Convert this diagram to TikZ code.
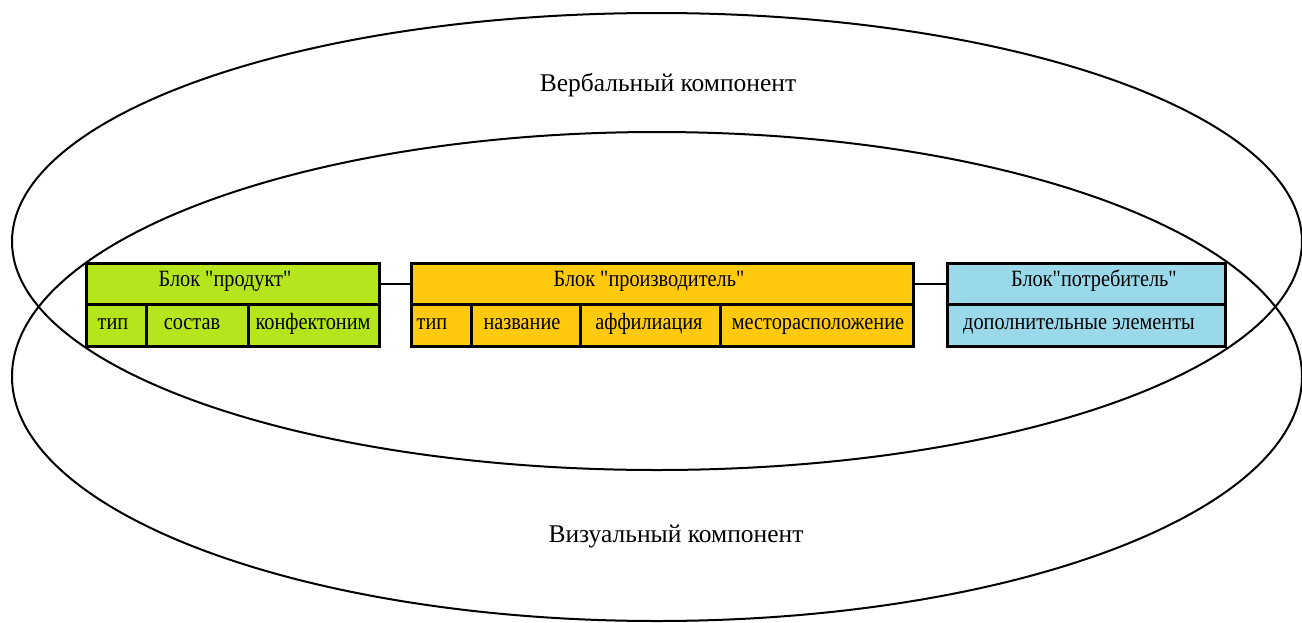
\documentclass[tikz,border=0pt]{standalone}
\usepackage{fontspec}
\newfontfamily\tnr{Liberation Serif}
\definecolor{cgreen}{HTML}{B5E61D}
\definecolor{corange}{HTML}{FFC90E}
\definecolor{cblue}{HTML}{99D9EA}
\newcommand{\tall}[1]{\scalebox{1}[1.15]{#1}}
\tikzset{
  oval/.style={draw=black, line width=2pt},
  cell/.style={draw=black, line width=3pt, rectangle, inner sep=0pt, anchor=north west},
  boxtext/.style={font=\tnr\fontsize{20.3}{22}\selectfont, inner sep=0pt, anchor=base},
  bigtext/.style={font=\tnr\fontsize{25.5}{28}\selectfont, inner sep=0pt},
  link/.style={draw=black, line width=2pt}
}
\begin{document}
\begin{tikzpicture}[x=1pt,y=-1pt]
\useasboundingbox (0,0) rectangle (1302,622);
\fill[white] (0,0) rectangle (1302,622);
% ellipses
\draw[oval] (657,241.5) ellipse [x radius=645, y radius=228.5];
\draw[oval] (657,376.5) ellipse [x radius=645, y radius=244.5];
\node[bigtext] (verb) at (668,85) {Вербальный компонент};
\node[bigtext] (vis) at (676,537) {Визуальный компонент};
% green block
\node[cell, fill=cgreen, minimum width=293pt, minimum height=41pt] (gh) at (85,262) {};
\node[cell, fill=cgreen, minimum width=60pt, minimum height=42pt] (g1) at (85,303) {};
\node[cell, fill=cgreen, minimum width=102pt, minimum height=42pt] (g2) at (145,303) {};
\node[cell, fill=cgreen, minimum width=131pt, minimum height=42pt] (g3) at (247,303) {};
\node[boxtext] (ght) at (225,286) {\tall{Блок "продукт"}};
\node[boxtext] (g1t) at (113,329) {\tall{тип}};
\node[boxtext] (g2t) at (192,329) {\tall{состав}};
\node[boxtext] (g3t) at (313,329) {\tall{конфектоним}};
% orange block
\node[cell, fill=corange, minimum width=502pt, minimum height=41pt] (oh) at (410,262) {};
\node[cell, fill=corange, minimum width=60pt, minimum height=42pt] (o1) at (410,303) {};
\node[cell, fill=corange, minimum width=109pt, minimum height=42pt] (o2) at (470,303) {};
\node[cell, fill=corange, minimum width=140pt, minimum height=42pt] (o3) at (579,303) {};
\node[cell, fill=corange, minimum width=193pt, minimum height=42pt] (o4) at (719,303) {};
\node[boxtext] (oht) at (649,286) {\tall{Блок "производитель"}};
\node[boxtext] (o1t) at (432,329) {\tall{тип}};
\node[boxtext] (o2t) at (522,329) {\tall{название}};
\node[boxtext] (o3t) at (649,329) {\tall{аффилиация}};
\node[boxtext] (o4t) at (818,329) {\tall{месторасположение}};
% blue block
\node[cell, fill=cblue, minimum width=278pt, minimum height=41pt] (bh) at (946,262) {};
\node[cell, fill=cblue, minimum width=278pt, minimum height=42pt] (b1) at (946,303) {};
\node[boxtext] (bht) at (1094,286) {\tall{Блок"потребитель"}};
\node[boxtext] (b1t) at (1079,329) {\tall{дополнительные элементы}};
% links
\draw[link] (gh.east) -- (oh.west);
\draw[link] (oh.east) -- (bh.west);
\end{tikzpicture}
\end{document}
